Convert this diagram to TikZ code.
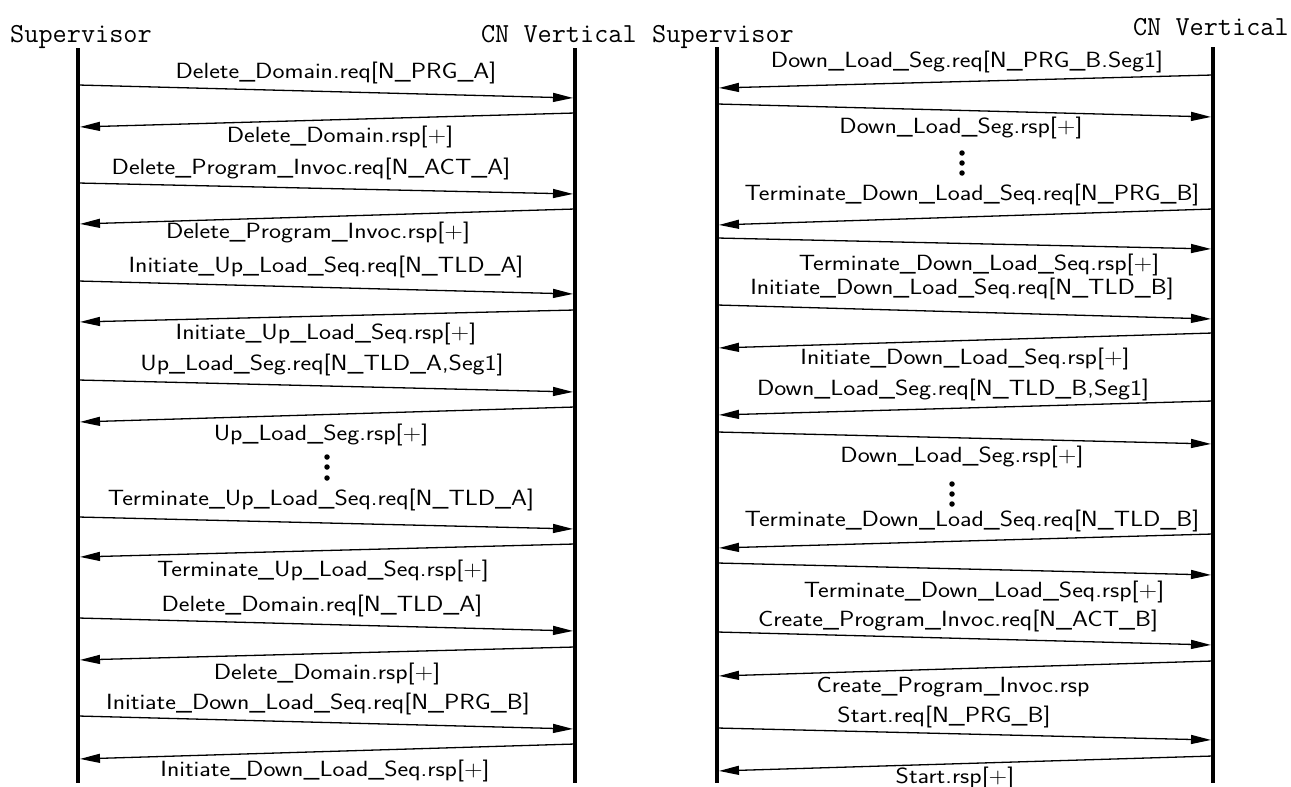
\documentclass[tikz,border=0pt]{standalone}
\usepackage{fontspec}
\usepackage{graphicx}
\usetikzlibrary{arrows.meta}
\newcommand\msgfont{\sffamily\fontsize{22}{26}\selectfont}
\newcommand\hdrfont{\ttfamily\fontsize{27.5}{30}\selectfont}
\newcommand\mtxt[1]{\scalebox{1.16}[1]{#1}}
\tikzset{
  lifeline/.style={line width=4.5pt},
  msg/.style={line width=1.3pt, -{Triangle[length=20pt,width=9pt]}, shorten >=2pt, shorten <=2pt},
  lbl/.style={inner sep=0pt, font=\msgfont},
  hdr/.style={inner sep=0pt, font=\hdrfont},
  dotnode/.style={circle, fill, inner sep=0pt, minimum size=5.5pt},
}
\begin{document}
\begin{tikzpicture}[x=1pt,y=-1pt]
\useasboundingbox (0,0) rectangle (1291,787);
% ---------- left diagram ----------
\node[hdr, anchor=base west] (hS1) at (10,42) {Supervisor};
\node[hdr, anchor=base east] (hC1) at (637,42) {CN Vertical};
\coordinate (S1t) at (78,48);  \coordinate (S1b) at (78,783);
\coordinate (C1t) at (575,48); \coordinate (C1b) at (575,783);
\draw[lifeline] (S1t) -- (S1b);
\draw[lifeline] (C1t) -- (C1b);

\coordinate (a1s) at (78,85);  \coordinate (a1e) at (575,98);  \draw[msg] (a1s) -- (a1e);
\node[lbl] (t1) at (336,73) {\mtxt{Delete\_Domain.req[N\_PRG\_A]}};
\coordinate (a2s) at (575,113); \coordinate (a2e) at (78,127); \draw[msg] (a2s) -- (a2e);
\node[lbl] (t2) at (340,137) {\mtxt{Delete\_Domain.rsp[+]}};
\coordinate (a3s) at (78,183); \coordinate (a3e) at (575,194); \draw[msg] (a3s) -- (a3e);
\node[lbl] (t3) at (311,169) {\mtxt{Delete\_Program\_Invoc.req[N\_ACT\_A]}};
\coordinate (a4s) at (575,209); \coordinate (a4e) at (78,224); \draw[msg] (a4s) -- (a4e);
\node[lbl] (t4) at (318,233) {\mtxt{Delete\_Program\_Invoc.rsp[+]}};
\coordinate (a5s) at (78,281); \coordinate (a5e) at (575,294); \draw[msg] (a5s) -- (a5e);
\node[lbl] (t5) at (326,267) {\mtxt{Initiate\_Up\_Load\_Seq.req[N\_TLD\_A]}};
\coordinate (a6s) at (575,310); \coordinate (a6e) at (78,322); \draw[msg] (a6s) -- (a6e);
\node[lbl] (t6) at (326,334) {\mtxt{Initiate\_Up\_Load\_Seq.rsp[+]}};
\coordinate (a7s) at (78,380); \coordinate (a7e) at (575,392); \draw[msg] (a7s) -- (a7e);
\node[lbl] (t7) at (322,365) {\mtxt{Up\_Load\_Seg.req[N\_TLD\_A,Seg1]}};
\coordinate (a8s) at (575,407); \coordinate (a8e) at (78,422); \draw[msg] (a8s) -- (a8e);
\node[lbl] (t8) at (321,435) {\mtxt{Up\_Load\_Seg.rsp[+]}};
\node[dotnode] (d1a) at (327,457) {};
\node[dotnode] (d1b) at (327,467) {};
\node[dotnode] (d1c) at (327,478) {};
\coordinate (a9s) at (78,517); \coordinate (a9e) at (575,529); \draw[msg] (a9s) -- (a9e);
\node[lbl] (t9) at (321,500) {\mtxt{Terminate\_Up\_Load\_Seq.req[N\_TLD\_A]}};
\coordinate (a10s) at (575,544); \coordinate (a10e) at (78,557); \draw[msg] (a10s) -- (a10e);
\node[lbl] (t10) at (323,571) {\mtxt{Terminate\_Up\_Load\_Seq.rsp[+]}};
\coordinate (a11s) at (78,618); \coordinate (a11e) at (575,631); \draw[msg] (a11s) -- (a11e);
\node[lbl] (t11) at (322,606) {\mtxt{Delete\_Domain.req[N\_TLD\_A]}};
\coordinate (a12s) at (575,647); \coordinate (a12e) at (78,660); \draw[msg] (a12s) -- (a12e);
\node[lbl] (t12) at (327,674) {\mtxt{Delete\_Domain.rsp[+]}};
\coordinate (a13s) at (78,716); \coordinate (a13e) at (575,729); \draw[msg] (a13s) -- (a13e);
\node[lbl] (t13) at (318,704) {\mtxt{Initiate\_Down\_Load\_Seq.req[N\_PRG\_B]}};
\coordinate (a14s) at (575,744); \coordinate (a14e) at (78,759); \draw[msg] (a14s) -- (a14e);
\node[lbl] (t14) at (325,771) {\mtxt{Initiate\_Down\_Load\_Seq.rsp[+]}};

% ---------- right diagram ----------
\node[hdr, anchor=base west] (hS2) at (652,42) {Supervisor};
\node[hdr, anchor=base east] (hC2) at (1289,35) {CN Vertical};
\coordinate (S2t) at (717,47);  \coordinate (S2b) at (717,783);
\coordinate (C2t) at (1213,47); \coordinate (C2b) at (1213,783);
\draw[lifeline] (S2t) -- (S2b);
\draw[lifeline] (C2t) -- (C2b);

\coordinate (b1s) at (1213,75); \coordinate (b1e) at (717,88); \draw[msg] (b1s) -- (b1e);
\node[lbl] (u1) at (967,62) {\mtxt{Down\_Load\_Seg.req[N\_PRG\_B.Seg1]}};
\coordinate (b2s) at (717,104); \coordinate (b2e) at (1213,117); \draw[msg] (b2s) -- (b2e);
\node[lbl] (u2) at (961,128) {\mtxt{Down\_Load\_Seg.rsp[+]}};
\node[dotnode] (d2a) at (962,153) {};
\node[dotnode] (d2b) at (962,163) {};
\node[dotnode] (d2c) at (962,173) {};
\coordinate (b3s) at (1213,209); \coordinate (b3e) at (717,225); \draw[msg] (b3s) -- (b3e);
\node[lbl] (u3) at (972,195) {\mtxt{Terminate\_Down\_Load\_Seq.req[N\_PRG\_B]}};
\coordinate (b4s) at (717,238); \coordinate (b4e) at (1213,249); \draw[msg] (b4s) -- (b4e);
\node[lbl] (u4) at (979,265) {\mtxt{Terminate\_Down\_Load\_Seq.rsp[+]}};
\coordinate (b5s) at (717,305); \coordinate (b5e) at (1213,319); \draw[msg] (b5s) -- (b5e);
\node[lbl] (u5) at (962,289) {\mtxt{Initiate\_Down\_Load\_Seq.req[N\_TLD\_B]}};
\coordinate (b6s) at (1213,333); \coordinate (b6e) at (717,348); \draw[msg] (b6s) -- (b6e);
\node[lbl] (u6) at (965,359) {\mtxt{Initiate\_Down\_Load\_Seq.rsp[+]}};
\coordinate (b7s) at (1213,401); \coordinate (b7e) at (717,415); \draw[msg] (b7s) -- (b7e);
\node[lbl] (u7) at (953,390) {\mtxt{Down\_Load\_Seg.req[N\_TLD\_B,Seg1]}};
\coordinate (b8s) at (717,432); \coordinate (b8e) at (1213,444); \draw[msg] (b8s) -- (b8e);
\node[lbl] (u8) at (962,457) {\mtxt{Down\_Load\_Seg.rsp[+]}};
\node[dotnode] (d3a) at (952,484) {};
\node[dotnode] (d3b) at (952,494) {};
\node[dotnode] (d3c) at (952,504) {};
\coordinate (b9s) at (1213,534); \coordinate (b9e) at (717,548); \draw[msg] (b9s) -- (b9e);
\node[lbl] (u9) at (972,521) {\mtxt{Terminate\_Down\_Load\_Seq.req[N\_TLD\_B]}};
\coordinate (b10s) at (717,563); \coordinate (b10e) at (1213,575); \draw[msg] (b10s) -- (b10e);
\node[lbl] (u10) at (984,592) {\mtxt{Terminate\_Down\_Load\_Seq.rsp[+]}};
\coordinate (b11s) at (717,632); \coordinate (b11e) at (1213,645); \draw[msg] (b11s) -- (b11e);
\node[lbl] (u11) at (958,621) {\mtxt{Create\_Program\_Invoc.req[N\_ACT\_B]}};
\coordinate (b12s) at (1213,661); \coordinate (b12e) at (717,676); \draw[msg] (b12s) -- (b12e);
\node[lbl] (u12) at (953,687) {\mtxt{Create\_Program\_Invoc.rsp}};
\coordinate (b13s) at (717,728); \coordinate (b13e) at (1213,740); \draw[msg] (b13s) -- (b13e);
\node[lbl] (u13) at (944,717) {\mtxt{Start.req[N\_PRG\_B]}};
\coordinate (b14s) at (1213,756); \coordinate (b14e) at (717,771); \draw[msg] (b14s) -- (b14e);
\node[lbl] (u14) at (955,778) {\mtxt{Start.rsp[+]}};
\end{tikzpicture}
\end{document}
